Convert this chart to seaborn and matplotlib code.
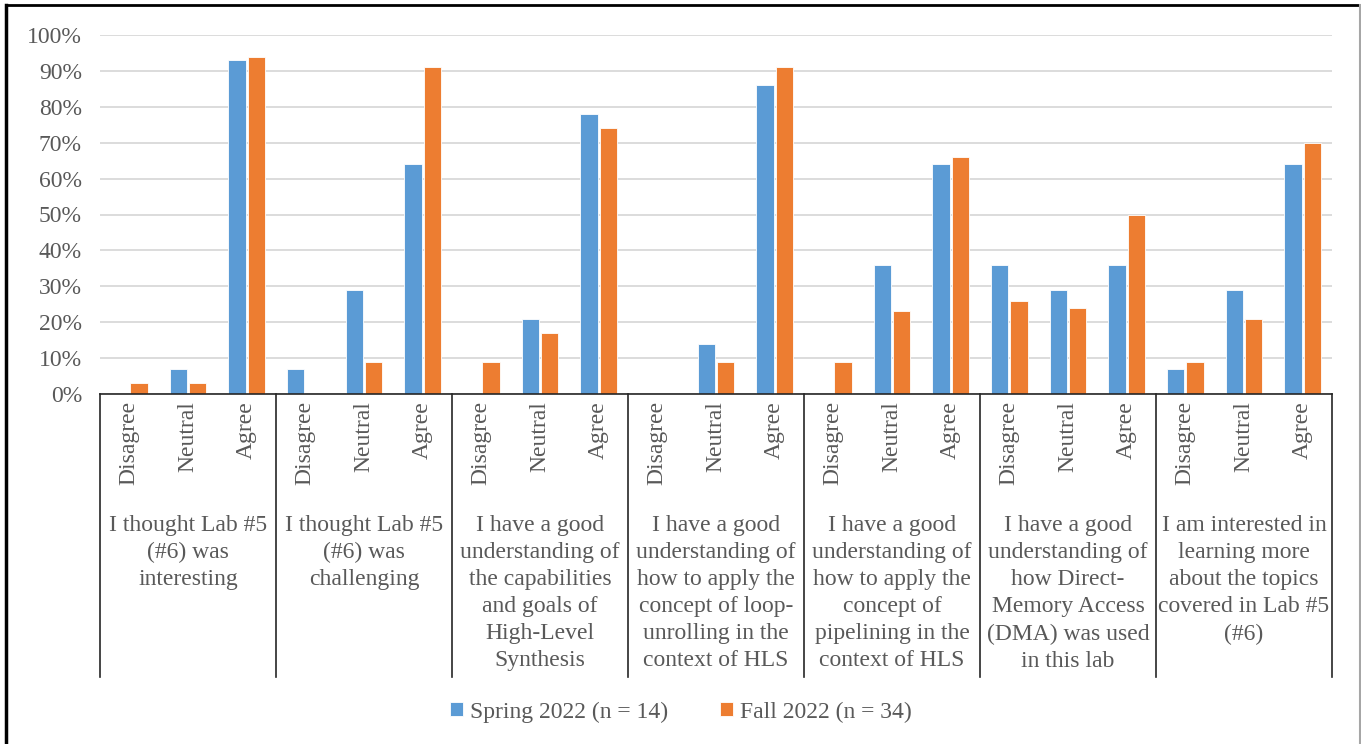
import numpy as np
import pandas as pd
import seaborn as sns
import matplotlib.pyplot as plt
import matplotlib.transforms as mtransforms
from matplotlib.lines import Line2D

# Survey questions (outer axis level) and responses (inner level)
questions = [
    "I thought Lab #5\n(#6) was\ninteresting",
    "I thought Lab #5\n(#6) was\nchallenging",
    "I have a good\nunderstanding of\nthe capabilities\nand goals of\nHigh-Level\nSynthesis",
    "I have a good\nunderstanding of\nhow to apply the\nconcept of loop-\nunrolling in the\ncontext of HLS",
    "I have a good\nunderstanding of\nhow to apply the\nconcept of\npipelining in the\ncontext of HLS",
    "I have a good\nunderstanding of\nhow Direct-\nMemory Access\n(DMA) was used\nin this lab",
    "I am interested in\nlearning more\nabout the topics\ncovered in Lab #5\n(#6)",
]
responses = ["Disagree", "Neutral", "Agree"]

# Percentages per question, order Disagree / Neutral / Agree
spring_2022 = [0, 7, 93, 7, 29, 64, 0, 21, 78, 0, 14, 86, 0, 36, 64, 36, 29, 36, 7, 29, 64]
fall_2022 = [3, 3, 94, 0, 9, 91, 9, 17, 74, 0, 9, 91, 9, 23, 66, 26, 24, 50, 9, 21, 70]

series_names = ["Spring 2022 (n = 14)", "Fall 2022 (n = 34)"]
colors = ["#5B9BD5", "#ED7D31"]

# Build long-form table
cats = [f"{qi}|{r}" for qi in range(len(questions)) for r in responses]
df = pd.DataFrame({
    "cat": cats * 2,
    "value": spring_2022 + fall_2022,
    "series": [series_names[0]] * len(cats) + [series_names[1]] * len(cats),
})

W, H = 1361, 744
fig = plt.figure(figsize=(W / 100, H / 100), dpi=100)
plt.rcParams["font.family"] = ["Liberation Serif", "DejaVu Serif"]
ax = fig.add_axes([100 / W, 1 - 394 / H, 1232 / W, 359 / H])

sns.barplot(data=df, x="cat", y="value", hue="series", order=cats,
            hue_order=series_names, palette=colors, saturation=1,
            width=0.66, gap=0.1, edgecolor="white", linewidth=0.6,
            ax=ax, legend=True)

text_col = "#595959"
fs = 17

ax.set_ylim(0, 100)
ax.set_xlim(-0.5, len(cats) - 0.5)
ax.set_yticks(np.arange(0, 101, 10))
ax.set_yticklabels([f"{v}%" for v in range(0, 101, 10)], fontsize=fs, color=text_col)
ax.tick_params(axis="y", length=0, pad=13)
ax.yaxis.grid(True, color="#D9D9D9", linewidth=1.3)
ax.set_axisbelow(True)
for s in ["top", "right", "left"]:
    ax.spines[s].set_visible(False)
ax.spines["bottom"].set_color("#262626")
ax.spines["bottom"].set_linewidth(1.2)
ax.set_xlabel("")
ax.set_ylabel("")

# inner labels
ax.set_xticks(range(len(cats)))
ax.set_xticklabels(responses * len(questions), rotation=90, fontsize=fs, color=text_col)
ax.tick_params(axis="x", length=0, pad=5)

# group separators and outer labels
trans = mtransforms.blended_transform_factory(ax.transData, fig.transFigure)
for g in range(len(questions) + 1):
    x = g * 3 - 0.5
    ax.add_line(Line2D([x, x], [1 - 394 / H, 1 - 677 / H], transform=trans,
                       color="#262626", linewidth=1.2, clip_on=False))
for g, q in enumerate(questions):
    ax.text(g * 3 + 1, 1 - 515 / H, q, transform=trans, ha="center", va="top",
            fontsize=fs, color=text_col, linespacing=1.38)

# legend
handles, labels = ax.get_legend_handles_labels()
ax.legend(handles, labels, loc="center", bbox_to_anchor=(0.5, 1 - 712 / H),
          bbox_transform=fig.transFigure, ncol=2, frameon=False, fontsize=fs,
          handlelength=0.55, handleheight=0.55, handletextpad=0.3,
          columnspacing=2.2, labelcolor=text_col)

# figure border
fig.add_artist(Line2D([6 / W, 6 / W], [0, 1 - 5 / H], transform=fig.transFigure, color="black", linewidth=2.5))
fig.add_artist(Line2D([6 / W, 1360 / W], [1 - 5 / H, 1 - 5 / H], transform=fig.transFigure, color="black", linewidth=2))
fig.add_artist(Line2D([1360 / W, 1360 / W], [0, 1 - 5 / H], transform=fig.transFigure, color="#A6A6A6", linewidth=1.5))

fig.savefig("out.png", dpi=100)
